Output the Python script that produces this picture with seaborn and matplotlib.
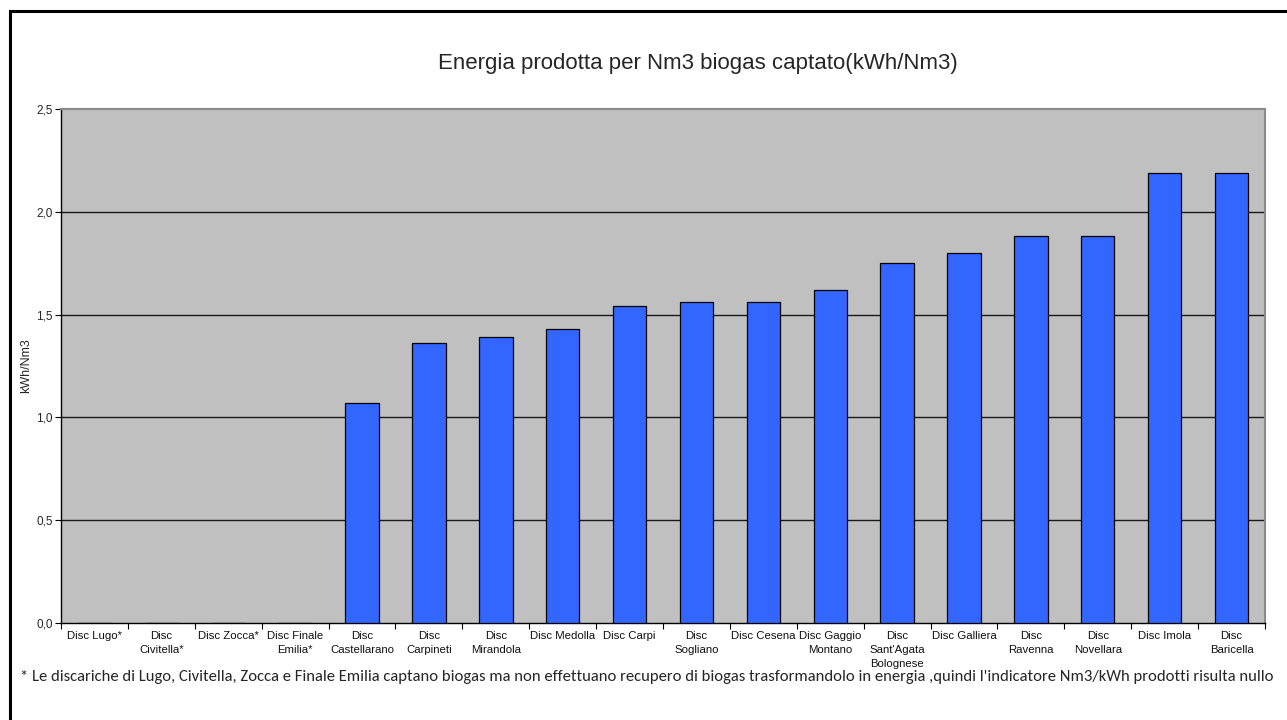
import matplotlib
matplotlib.use("Agg")
import matplotlib.pyplot as plt
import seaborn as sns
import pandas as pd
from matplotlib.patches import Rectangle
from matplotlib.ticker import FixedLocator

categories = ["Disc Lugo*", "Disc\nCivitella*", "Disc Zocca*", "Disc Finale\nEmilia*",
              "Disc\nCastellarano", "Disc\nCarpineti", "Disc\nMirandola", "Disc Medolla",
              "Disc Carpi", "Disc\nSogliano", "Disc Cesena", "Disc Gaggio\nMontano",
              "Disc\nSant'Agata\nBolognese", "Disc Galliera", "Disc\nRavenna",
              "Disc\nNovellara", "Disc Imola", "Disc\nBaricella"]
values = [0, 0, 0, 0, 1.07, 1.36, 1.39, 1.43, 1.54, 1.56, 1.56, 1.62, 1.75, 1.80,
          1.88, 1.88, 2.19, 2.19]
yticks = [0.0, 0.5, 1.0, 1.5, 2.0, 2.5]

title = "Energia prodotta per Nm3 biogas captato(kWh/Nm3)"
ylabel = "kWh/Nm3"
footnote = ("* Le discariche di Lugo, Civitella, Zocca e Finale Emilia captano biogas ma non "
            "effettuano recupero di biogas trasformandolo in energia ,quindi l'indicatore "
            "Nm3/kWh prodotti risulta nullo")

sns.set_style("white")
plt.rcParams['font.family'] = ['Liberation Sans', 'DejaVu Sans']

df = pd.DataFrame({"cat": categories, "val": values})

fig = plt.figure(figsize=(12.87, 7.2), dpi=100)
ax = fig.add_axes([61/1287, 1-623/720, (1265-61)/1287, (623-109)/720])

sns.barplot(data=df, x="cat", y="val", ax=ax, color="#3366FF", width=0.5,
            saturation=1, edgecolor="black", linewidth=0.9, zorder=3)

ax.set_facecolor("#C0C0C0")
ax.set_ylim(0, 2.5)
ax.set_xlim(-0.5, len(categories) - 0.5)
ax.set_yticks(yticks)
ax.set_yticklabels([f"{v:.1f}".replace(".", ",") for v in yticks])
for y in yticks[1:-1]:
    ax.axhline(y, color="#1a1a1a", linewidth=1.0, zorder=1)

ax.set_xticks(range(len(categories)))
ax.set_xticklabels(categories, fontsize=8.2, linespacing=1.45, color="#111111")
ax.tick_params(axis="x", which="major", length=0, pad=6)
ax.xaxis.set_minor_locator(FixedLocator([i + 0.5 for i in range(-1, len(categories))]))
ax.tick_params(axis="x", which="minor", length=4, width=0.8, color="black", direction="out", bottom=True)
ax.tick_params(axis="y", length=4, width=0.8, color="black", direction="out", labelsize=8.5,
               left=True, pad=2)

ax.set_xlabel("")
ax.set_ylabel(ylabel, fontsize=9)
ax.yaxis.set_label_coords((32 - 61) / 1204, 0.5)

for side in ["left", "bottom"]:
    ax.spines[side].set_color("black")
    ax.spines[side].set_linewidth(1.0)
for side in ["top", "right"]:
    ax.spines[side].set_color("#8a8a8a")
    ax.spines[side].set_linewidth(1.5)

fig.text(698/1287, 1-64/720, title, ha="center", va="center", fontsize=16)
fig.text(20/1287, 1-677/720, footnote, ha="left", va="center", fontsize=12,
         family=["Carlito", "Lato", "DejaVu Sans"])

fig.patches.append(Rectangle((10/1287, -0.1), 1.2, 1 - 11/720 + 0.1,
                             transform=fig.transFigure, fill=False,
                             edgecolor="black", linewidth=2.2, zorder=10))

fig.savefig("out.png", dpi=100, facecolor="white")
